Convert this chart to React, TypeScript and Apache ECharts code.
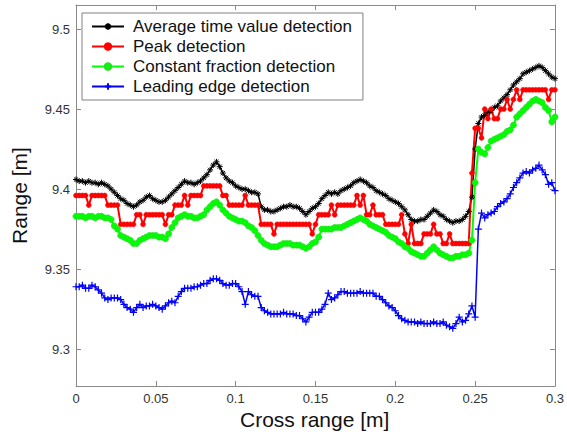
import React, { useEffect, useRef } from "react";
import * as echarts from "echarts";

// Cross range sampling (m): start and step between successive samples
const X_START = 0;
const X_STEP = 0.002;

const seriesNames = [
  "Average time value detection",
  "Peak detection",
  "Constant fraction detection",
  "Leading edge detection",
];

// Range values [m], one per cross-range sample (151 samples, 0 .. 0.3 m)
const averageTime = [
  9.406, 9.405, 9.405, 9.404, 9.405, 9.404, 9.404, 9.403, 9.404, 9.403,
  9.402, 9.400, 9.398, 9.396, 9.394, 9.393, 9.391, 9.390, 9.389, 9.390,
  9.392, 9.393, 9.395, 9.396, 9.394, 9.393, 9.392, 9.392, 9.393, 9.395,
  9.397, 9.399, 9.401, 9.403, 9.405, 9.404, 9.404, 9.403, 9.404, 9.405,
  9.407, 9.409, 9.412, 9.415, 9.417, 9.414, 9.410, 9.407, 9.405, 9.404,
  9.402, 9.401, 9.400, 9.400, 9.399, 9.398, 9.398, 9.397, 9.389, 9.387,
  9.387, 9.386, 9.386, 9.387, 9.388, 9.389, 9.389, 9.390, 9.389, 9.389,
  9.388, 9.386, 9.384, 9.386, 9.388, 9.389, 9.391, 9.394, 9.396, 9.398,
  9.397, 9.398, 9.397, 9.399, 9.400, 9.401, 9.402, 9.404, 9.405, 9.406,
  9.405, 9.404, 9.402, 9.401, 9.399, 9.398, 9.397, 9.396, 9.394, 9.393,
  9.392, 9.391, 9.389, 9.387, 9.384, 9.381, 9.380, 9.380, 9.381, 9.381,
  9.383, 9.385, 9.387, 9.386, 9.384, 9.383, 9.381, 9.380, 9.379, 9.380,
  9.380, 9.381, 9.383, 9.386, 9.395, 9.425, 9.441, 9.445, 9.446, 9.448,
  9.449, 9.451, 9.452, 9.455, 9.457, 9.459, 9.462, 9.465, 9.467, 9.469,
  9.472, 9.473, 9.474, 9.475, 9.476, 9.477, 9.476, 9.474, 9.472, 9.470, 9.469,
];

const peak = [
  9.396, 9.396, 9.396, 9.396, 9.390, 9.396, 9.396, 9.396, 9.396, 9.396,
  9.390, 9.390, 9.390, 9.390, 9.378, 9.378, 9.378, 9.378, 9.378, 9.384,
  9.384, 9.378, 9.384, 9.384, 9.384, 9.384, 9.384, 9.384, 9.378, 9.384,
  9.384, 9.390, 9.390, 9.390, 9.396, 9.390, 9.396, 9.396, 9.396, 9.396,
  9.402, 9.402, 9.402, 9.402, 9.402, 9.402, 9.396, 9.396, 9.390, 9.390,
  9.390, 9.390, 9.390, 9.396, 9.390, 9.390, 9.390, 9.390, 9.378, 9.378,
  9.378, 9.378, 9.372, 9.378, 9.378, 9.378, 9.378, 9.378, 9.378, 9.378,
  9.378, 9.378, 9.378, 9.378, 9.372, 9.378, 9.384, 9.384, 9.384, 9.384,
  9.390, 9.384, 9.390, 9.390, 9.390, 9.390, 9.390, 9.390, 9.396, 9.390,
  9.396, 9.384, 9.384, 9.390, 9.384, 9.384, 9.384, 9.378, 9.378, 9.378,
  9.378, 9.378, 9.384, 9.372, 9.366, 9.378, 9.366, 9.366, 9.366, 9.372,
  9.372, 9.372, 9.378, 9.372, 9.372, 9.366, 9.366, 9.372, 9.366, 9.366,
  9.366, 9.366, 9.366, 9.366, 9.410, 9.438, 9.438, 9.432, 9.450, 9.444,
  9.450, 9.444, 9.444, 9.450, 9.450, 9.456, 9.450, 9.456, 9.462, 9.456,
  9.462, 9.462, 9.462, 9.462, 9.462, 9.462, 9.462, 9.462, 9.456, 9.462, 9.462,
];

const constantFraction = [
  9.383, 9.383, 9.383, 9.382, 9.383, 9.383, 9.382, 9.383, 9.383, 9.382,
  9.382, 9.381, 9.377, 9.375, 9.371, 9.370, 9.369, 9.368, 9.366, 9.366,
  9.368, 9.369, 9.370, 9.371, 9.371, 9.371, 9.370, 9.370, 9.369, 9.372,
  9.376, 9.379, 9.382, 9.383, 9.384, 9.383, 9.383, 9.382, 9.382, 9.383,
  9.384, 9.387, 9.389, 9.391, 9.392, 9.390, 9.387, 9.385, 9.383, 9.382,
  9.381, 9.380, 9.380, 9.379, 9.377, 9.376, 9.374, 9.371, 9.368, 9.366,
  9.365, 9.364, 9.364, 9.364, 9.365, 9.366, 9.366, 9.366, 9.365, 9.365,
  9.365, 9.364, 9.363, 9.364, 9.366, 9.367, 9.370, 9.375, 9.375, 9.375,
  9.375, 9.376, 9.376, 9.376, 9.377, 9.378, 9.379, 9.380, 9.381, 9.382,
  9.381, 9.380, 9.378, 9.377, 9.376, 9.375, 9.374, 9.373, 9.371, 9.370,
  9.369, 9.367, 9.366, 9.364, 9.363, 9.361, 9.360, 9.359, 9.358, 9.358,
  9.360, 9.362, 9.364, 9.362, 9.360, 9.359, 9.358, 9.357, 9.357, 9.358,
  9.358, 9.359, 9.359, 9.360, 9.368, 9.404, 9.425, 9.423, 9.422, 9.426,
  9.430, 9.431, 9.432, 9.433, 9.434, 9.436, 9.437, 9.440, 9.445, 9.447,
  9.449, 9.451, 9.453, 9.455, 9.456, 9.455, 9.454, 9.451, 9.449, 9.442, 9.445,
];

const leadingEdge = [
  9.339, 9.339, 9.340, 9.338, 9.338, 9.340, 9.339, 9.337, 9.335, 9.332,
  9.331, 9.332, 9.332, 9.332, 9.331, 9.328, 9.326, 9.325, 9.323, 9.326,
  9.328, 9.326, 9.327, 9.327, 9.328, 9.327, 9.326, 9.325, 9.327, 9.329,
  9.330, 9.329, 9.333, 9.336, 9.338, 9.338, 9.338, 9.339, 9.339, 9.340,
  9.341, 9.341, 9.343, 9.344, 9.344, 9.343, 9.341, 9.340, 9.340, 9.341,
  9.341, 9.339, 9.336, 9.328, 9.336, 9.334, 9.333, 9.333, 9.326, 9.324,
  9.323, 9.322, 9.322, 9.322, 9.322, 9.323, 9.322, 9.322, 9.322, 9.321,
  9.321, 9.319, 9.317, 9.320, 9.323, 9.323, 9.323, 9.325, 9.328, 9.335,
  9.331, 9.332, 9.334, 9.336, 9.336, 9.335, 9.335, 9.335, 9.335, 9.336,
  9.335, 9.335, 9.335, 9.335, 9.333, 9.333, 9.331, 9.329, 9.327, 9.326,
  9.324, 9.321, 9.319, 9.318, 9.317, 9.317, 9.317, 9.316, 9.317, 9.316,
  9.316, 9.316, 9.317, 9.316, 9.316, 9.317, 9.315, 9.314, 9.313, 9.316,
  9.320, 9.317, 9.318, 9.322, 9.327, 9.320, 9.375, 9.385, 9.382, 9.384,
  9.385, 9.386, 9.389, 9.391, 9.392, 9.394, 9.397, 9.401, 9.404, 9.407,
  9.410, 9.411, 9.410, 9.412, 9.413, 9.415, 9.412, 9.409, 9.403, 9.404, 9.399,
];

// Axis extents and tick labels
const X_MIN = 0;
const X_MAX = 0.3;
const X_INTERVAL = 0.05;
const Y_MIN = 9.277;
const Y_MAX = 9.515;
const yTicks = [9.3, 9.35, 9.4, 9.45, 9.5];
const xTitle = "Cross range [m]";
const yTitle = "Range [m]";

const FONT = "'Liberation Sans', Arial, Helvetica, sans-serif";
const AXIS_COLOR = "#8a8a8a";

const ASTERISK = "path://M0,5L10,5M5,0L5,10M1.5,1.5L8.5,8.5M8.5,1.5L1.5,8.5";
const PLUS = "path://M0,5L10,5M5,0L5,10";

const isYTick = (v: number) => yTicks.some((t) => Math.abs(t - v) < 1e-7);

export default function App() {
  const ref = useRef<HTMLDivElement>(null);

  useEffect(() => {
    document.body.style.margin = "0";
    if (!ref.current) return;
    const chart = echarts.init(ref.current, null, { renderer: "svg" });

    const toPoints = (vals: number[]) =>
      vals.map((v, i) => [Number((X_START + i * X_STEP).toFixed(4)), v]);

    const baseX = {
      type: "value" as const,
      min: X_MIN,
      max: X_MAX,
      interval: X_INTERVAL,
      axisLine: { show: true, onZero: false, lineStyle: { color: AXIS_COLOR, width: 1 } },
      axisTick: { show: true, inside: true, length: 5, lineStyle: { color: AXIS_COLOR } },
      splitLine: { show: false },
    };
    const baseY = {
      type: "value" as const,
      min: Y_MIN,
      max: Y_MAX,
      splitNumber: 5,
      axisLine: { show: true, onZero: false, lineStyle: { color: AXIS_COLOR, width: 1 } },
      axisTick: { show: true, inside: true, length: 5, lineStyle: { color: AXIS_COLOR }, customValues: yTicks },
      splitLine: { show: false },
    };

    const option = {
      animation: false,
      backgroundColor: "#ffffff",
      grid: { left: 76, right: 10, top: 5, bottom: 53, containLabel: false },
      legend: {
        orient: "vertical",
        left: 82,
        top: 13,
        padding: [4, 11, 4, 9],
        itemGap: 1,
        itemWidth: 32,
        itemHeight: 8,
        borderColor: "#808080",
        borderWidth: 1,
        backgroundColor: "#ffffff",
        textStyle: { fontFamily: FONT, fontSize: 17, lineHeight: 19, color: "#111", padding: [0, 0, 0, 4] },
        data: seriesNames,
      },
      graphic: [
        {
          type: "text",
          left: 240,
          top: 409,
          style: { text: xTitle, font: `21px ${FONT}`, fill: "#111" },
        },
      ],
      xAxis: [
        {
          ...baseX,
          position: "bottom",
          axisLabel: { show: true, color: "#333", fontSize: 13, fontFamily: FONT, margin: 6 },
        },
        { ...baseX, position: "top", axisLabel: { show: false } },
      ],
      yAxis: [
        {
          ...baseY,
          position: "left",
          axisLabel: {
            show: true,
            color: "#333",
            fontSize: 13,
            fontFamily: FONT,
            margin: 6,
            customValues: yTicks,
            formatter: (v: number) => (isYTick(v) ? String(Number(v.toFixed(3))) : ""),
          },
          name: yTitle,
          nameLocation: "middle",
          nameGap: 46,
          nameTextStyle: { fontFamily: FONT, fontSize: 21, color: "#111" },
        },
        { ...baseY, position: "right", axisLabel: { show: false } },
      ],
      series: [
        {
          type: "line",
          name: seriesNames[0],
          data: toPoints(averageTime),
          symbol: ASTERISK,
          symbolSize: 6,
          showAllSymbol: true,
          lineStyle: { color: "#000000", width: 1.5 },
          itemStyle: { color: "#000000", borderColor: "#000000", borderWidth: 1 },
        },
        {
          type: "line",
          name: seriesNames[1],
          data: toPoints(peak),
          symbol: "circle",
          symbolSize: 5,
          showAllSymbol: true,
          lineStyle: { color: "#ff0000", width: 2 },
          itemStyle: { color: "#ff0000", borderColor: "#ff0000", borderWidth: 0.5 },
        },
        {
          type: "line",
          name: seriesNames[2],
          data: toPoints(constantFraction),
          symbol: "circle",
          symbolSize: 6,
          showAllSymbol: true,
          lineStyle: { color: "#00ff00", width: 2 },
          itemStyle: { color: "#00ff00", borderColor: "#22dd22", borderWidth: 0.8 },
        },
        {
          type: "line",
          name: seriesNames[3],
          data: toPoints(leadingEdge),
          symbol: PLUS,
          symbolSize: 7,
          showAllSymbol: true,
          lineStyle: { color: "#0000ff", width: 1.5 },
          itemStyle: { color: "#0000ff", borderColor: "#0000ff", borderWidth: 1.2 },
        },
      ],
    };

    chart.setOption(option as any);
    return () => chart.dispose();
  }, []);

  return <div ref={ref} style={{ width: 567, height: 439 }} />;
}
